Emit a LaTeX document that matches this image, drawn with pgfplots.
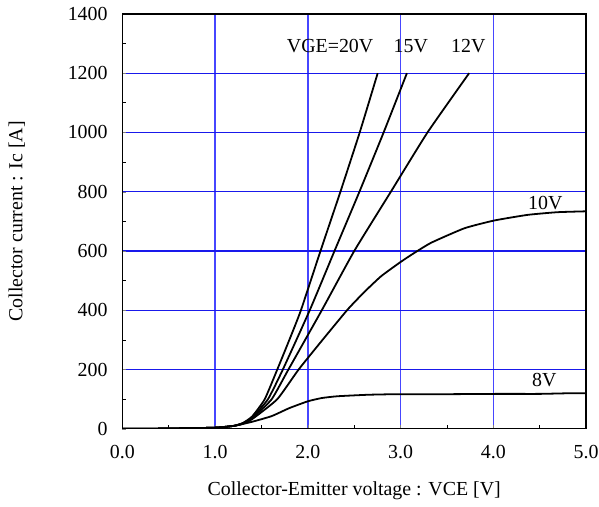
\documentclass[border=0pt]{standalone}
\usepackage{fontspec}
\setmainfont{Liberation Serif}
\usepackage{pgfplots}
\pgfplotsset{compat=1.18}
\definecolor{gridv}{RGB}{70,70,255}
\definecolor{gridh}{RGB}{25,25,235}
\begin{document}
\fontsize{20bp}{24bp}\selectfont
\begin{tikzpicture}
\begin{axis}[
    at={(0,0)}, anchor=south west,
    scale only axis,
    width=466bp, height=417bp,
    xmin=0, xmax=5, ymin=0, ymax=1400,
    xtick={0,1,...,5}, ytick={0,200,...,1400},
    minor x tick num=1, minor y tick num=1,
    tick align=inside, xtick pos=left, ytick pos=left,
    major tick length=4bp, minor tick length=4bp,
    minor tick style={black, line width=0.8bp},
    axis line style={line width=1.2bp},
    grid=major,
    x grid style={gridv, line width=1.4bp},
    y grid style={gridh, line width=1.3bp},
    /pgf/number format/assume math mode=true,
    x tick label style={yshift=-10bp, /pgf/number format/.cd, fixed, fixed zerofill, precision=1},
    y tick label style={xshift=-8bp, /pgf/number format/1000 sep={}},
    xlabel={Collector-Emitter voltage : VCE [V]},
    ylabel={Collector current : Ic [A]},
    xlabel style={at={(axis description cs:0.5,-0.1487)}, anchor=center},
    ylabel style={at={(axis description cs:-0.2275,0.5)}, anchor=center},
]
% VGE = 20 V
\addplot[black, line width=1.8bp, smooth, tension=0.3] coordinates {(0,0) (0.5,1) (1.0,4) (1.2,10) (1.3,20) (1.4,42)
  (1.535,100) (1.67,200) (1.80,300) (1.925,400) (2.136,600) (2.351,800) (2.559,1000) (2.753,1200)};
% VGE = 15 V
\addplot[black, line width=1.8bp, smooth, tension=0.3] coordinates {(0,0) (0.5,1) (1.0,4) (1.2,10) (1.3,19) (1.4,38)
  (1.57,100) (1.73,200) (2.02,400) (2.287,600) (2.556,800) (2.817,1000) (3.068,1200)};
% VGE = 12 V
\addplot[black, line width=1.8bp, smooth, tension=0.3] coordinates {(0,0) (0.5,1) (1.0,4) (1.2,10) (1.3,18) (1.4,36)
  (1.61,100) (1.79,200) (2.15,400) (2.50,600) (2.895,800) (3.29,1000) (3.739,1200)};
% VGE = 10 V
\addplot[black, line width=1.8bp, smooth, tension=0.3] coordinates {(0,0) (0.5,1) (1.0,4) (1.2,10) (1.3,17) (1.4,33)
  (1.67,100) (1.90,200) (2.15,297) (2.43,403) (2.61,462) (2.79,515) (3.0,563) (3.13,590)
  (3.33,628) (3.69,677) (4.01,703) (4.37,722) (4.69,731) (5.0,734)};
% VGE = 8 V
\addplot[black, line width=1.8bp, smooth, tension=0.3] coordinates {(0,0) (0.5,1) (1.0,4) (1.2,10) (1.4,24) (1.61,43)
  (1.8,70) (2.0,93) (2.15,104) (2.32,110) (2.645,115) (2.97,117) (3.5,117) (4.05,118)
  (4.5,118) (4.8,120) (5.0,120)};
\node at (axis cs:2.24,1293) {VGE=20V};
\node at (axis cs:3.11,1293) {15V};
\node at (axis cs:3.73,1293) {12V};
\node at (axis cs:4.56,762) {10V};
\node at (axis cs:4.55,165) {8V};
\end{axis}
\pgfresetboundingbox
\path[use as bounding box] (-123bp,-78bp) rectangle (479bp,431bp);
\end{tikzpicture}
\end{document}
